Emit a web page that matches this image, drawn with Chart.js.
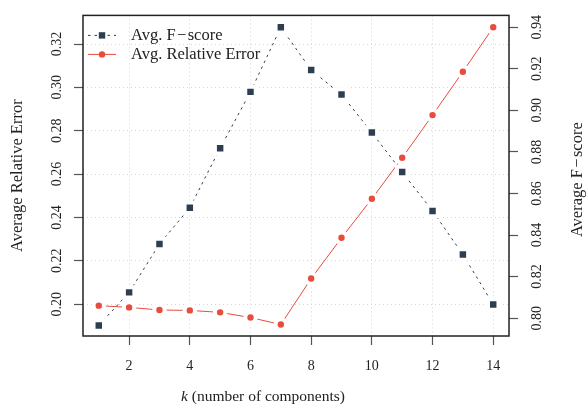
<!DOCTYPE html>
<html>
<head>
<meta charset="utf-8">
<script src="https://cdn.jsdelivr.net/npm/chart.js@4.4.0/dist/chart.umd.min.js"></script>
<style>
  html, body { margin: 0; padding: 0; background: #fff; }
  canvas { display: block; }
</style>
</head>
<body>
<canvas id="grafico" width="587" height="408"></canvas>
<script>
// Dados
const kValores = [1, 2, 3, 4, 5, 6, 7, 8, 9, 10, 11, 12, 13, 14];
const fScore = [0.7965, 0.8124, 0.8357, 0.8531, 0.8818, 0.9089, 0.9400, 0.9194, 0.9076, 0.8893, 0.8703, 0.8516, 0.8306, 0.8066];
const erroRelativo = [0.1993, 0.1985, 0.1973, 0.1971, 0.1962, 0.1938, 0.1906, 0.2118, 0.2306, 0.2486, 0.2675, 0.2872, 0.3072, 0.3277];

// Ticks
const ticksK = [2, 4, 6, 8, 10, 12, 14];
const ticksErro = [0.20, 0.22, 0.24, 0.26, 0.28, 0.30, 0.32];
const ticksF = [0.80, 0.82, 0.84, 0.86, 0.88, 0.90, 0.92, 0.94];

const SERIF = '"Liberation Serif", "DejaVu Serif", serif';
const AZUL = '#2c3e50';
const VERMELHO = '#e74c3c';
const MENOS = '\u200A\u2212\u200A';

// Moldura, legenda e títulos extras
const extras = {
  id: 'extras',
  afterDatasetsDraw(chart) {
    const { ctx, chartArea } = chart;
    ctx.save();
    ctx.strokeStyle = '#222';
    ctx.lineWidth = 1.5;
    ctx.strokeRect(chartArea.left, chartArea.top, chartArea.right - chartArea.left, chartArea.bottom - chartArea.top);

    // legenda
    const x0 = chartArea.left + 5, y0 = chartArea.top + 20;
    chart.data.datasets.forEach((ds, i) => {
      const y = y0 + i * 19;
      ctx.strokeStyle = ds.borderColor;
      ctx.lineWidth = 1;
      ctx.setLineDash(ds.borderDash || []);
      ctx.beginPath(); ctx.moveTo(x0, y); ctx.lineTo(x0 + 28, y); ctx.stroke();
      ctx.setLineDash([]);
      ctx.fillStyle = ds.pointBackgroundColor;
      if (ds.pointStyle === 'rect') {
        ctx.fillRect(x0 + 14 - 3.2, y - 3.2, 6.4, 6.4);
      } else {
        ctx.beginPath(); ctx.arc(x0 + 14, y, 3.2, 0, Math.PI * 2); ctx.fill();
      }
      ctx.fillStyle = '#222';
      ctx.font = '16.5px ' + SERIF;
      ctx.textAlign = 'left';
      ctx.textBaseline = 'middle';
      ctx.fillText(ds.label, x0 + 43, y);
    });
    ctx.restore();
  },
  afterDraw(chart) {
    const { ctx, chartArea } = chart;
    ctx.save();
    ctx.fillStyle = '#222';
    ctx.textBaseline = 'middle';

    // título do eixo x (k em itálico)
    ctx.textAlign = 'left';
    const xt = chartArea.left + 98, yt = 397;
    ctx.font = 'italic 15.5px ' + SERIF;
    ctx.fillText('k', xt, yt);
    const wk = ctx.measureText('k').width;
    ctx.font = '15.5px ' + SERIF;
    ctx.fillText(' (number of components)', xt + wk, yt);

    // título do eixo direito
    ctx.font = '16.5px ' + SERIF;
    ctx.translate(578, (chartArea.top + chartArea.bottom) / 2 + 4);
    ctx.rotate(-Math.PI / 2);
    ctx.textAlign = 'center';
    ctx.fillText('Average F' + MENOS + 'score', 0, 0);
    ctx.restore();
  }
};

const tickFont = { family: SERIF, size: 14 };

new Chart(document.getElementById('grafico'), {
  type: 'line',
  data: {
    datasets: [
      {
        label: 'Avg. F' + MENOS + 'score',
        data: kValores.map((k, i) => ({ x: k, y: fScore[i] })),
        yAxisID: 'y2',
        borderColor: AZUL,
        borderWidth: 1,
        borderDash: [2.5, 4],
        pointStyle: 'rect',
        pointRadius: 7.4,
        pointBorderWidth: 4,
        pointBackgroundColor: AZUL,
        pointBorderColor: '#fff',
        tension: 0
      },
      {
        label: 'Avg. Relative Error',
        data: kValores.map((k, i) => ({ x: k, y: erroRelativo[i] })),
        yAxisID: 'y',
        borderColor: VERMELHO,
        borderWidth: 1,
        pointStyle: 'circle',
        pointRadius: 5.2,
        pointBorderWidth: 4,
        pointBackgroundColor: VERMELHO,
        pointBorderColor: '#fff',
        tension: 0
      }
    ]
  },
  options: {
    responsive: false,
    animation: false,
    layout: { padding: { top: 13, left: 0, right: 0, bottom: 0 } },
    plugins: { legend: { display: false }, tooltip: { enabled: false } },
    scales: {
      x: {
        type: 'linear', min: 0.48, max: 14.52,
        afterBuildTicks: s => { s.ticks = ticksK.map(v => ({ value: v })); },
        afterFit: s => { s.height = 72; },
        ticks: { color: '#222', font: tickFont, padding: 13, maxRotation: 0, callback: v => String(v) },
        grid: { color: '#d4d4d4', lineWidth: 1, tickLength: 9, tickColor: '#555', tickWidth: 1.2 },
        border: { display: false, dash: [1, 3] }
      },
      y: {
        position: 'left', min: 0.1853, max: 0.3332,
        afterBuildTicks: s => { s.ticks = ticksErro.map(v => ({ value: v })); },
        afterFit: s => { s.width = 83; },
        ticks: { color: '#222', font: tickFont, padding: 4, minRotation: 90, maxRotation: 90, crossAlign: 'center', callback: v => v.toFixed(2) },
        grid: { color: '#d4d4d4', lineWidth: 1, tickLength: 9, tickColor: '#555', tickWidth: 1.2 },
        border: { display: false, dash: [1, 3] },
        title: { display: true, text: 'Average Relative Error', color: '#222', font: { family: SERIF, size: 16.5 }, padding: { top: 8, bottom: 0 } }
      },
      y2: {
        position: 'right', min: 0.7914, max: 0.9457,
        afterBuildTicks: s => { s.ticks = ticksF.map(v => ({ value: v })); },
        afterFit: s => { s.width = 78; },
        ticks: { color: '#222', font: tickFont, padding: 7, minRotation: 90, maxRotation: 90, crossAlign: 'center', callback: v => v.toFixed(2) },
        grid: { drawOnChartArea: false, tickLength: 9, tickColor: '#555', tickWidth: 1.2 },
        border: { display: false }
      }
    }
  },
  plugins: [extras]
});
</script>
</body>
</html>
